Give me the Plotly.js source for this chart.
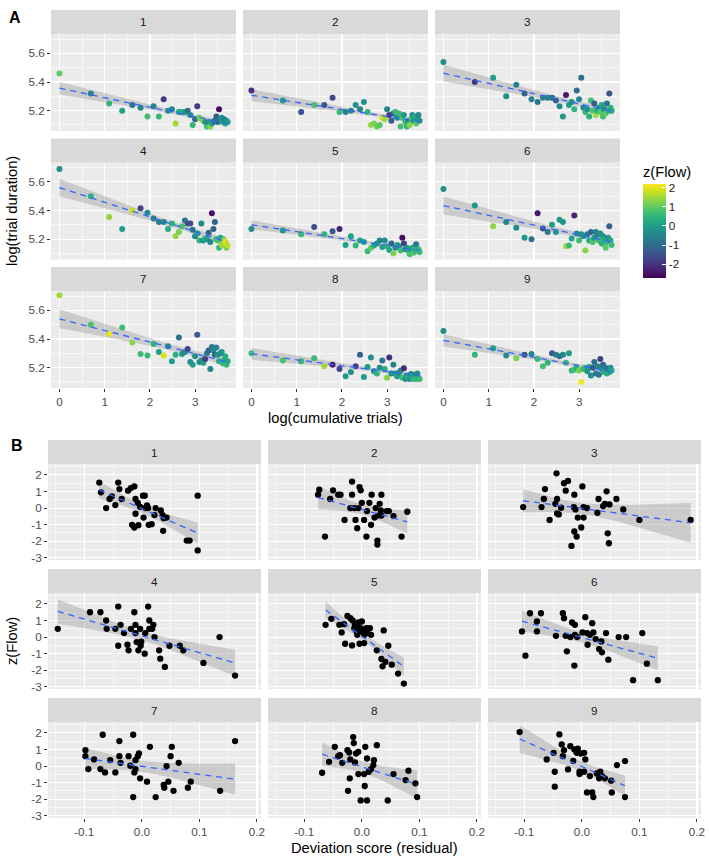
<!DOCTYPE html>
<html>
<head>
<meta charset="utf-8">
<script src="https://cdn.plot.ly/plotly-3.0.1.min.js"></script>
<style>
  html, body { margin: 0; padding: 0; background: #fff; }
</style>
</head>
<body>
<div id="chart" style="width:709px;height:866px"></div>
<script>
// ---- data -------------------------------------------------------------

// Panel A: trial number (x axis is log of it), log(trial duration), z(Flow) colour
const trials = [1, 2, 3, 4, 5, 6, 7, 8, 9, 10, 11, 12, 13, 14, 15, 16, 17, 18, 19, 20,
  21, 22, 23, 24, 25, 26, 27, 28, 29, 30, 31, 32, 33, 34, 35, 36, 37, 38, 39, 40, 41];

const durY = [
  [5.46, 5.32, 5.25, 5.20, 5.24, 5.22, 5.16, 5.23, 5.16, 5.28, 5.20, 5.21, 5.11, 5.19, 5.19, 5.19, 5.20, 5.17, 5.10, 5.14, 5.23, 5.15, 5.14, 5.13, 5.12, 5.09, 5.12, 5.09, 5.11, 5.12, 5.13, 5.16, 5.12, 5.21, 5.14, 5.15, 5.12, 5.14, 5.11, 5.13, 5.12],
  [5.34, 5.27, 5.19, 5.24, 5.24, 5.29, 5.19, 5.19, 5.20, 5.24, 5.21, 5.26, 5.19, 5.10, 5.11, 5.09, 5.10, 5.15, 5.14, 5.21, 5.17, 5.13, 5.18, 5.19, 5.15, 5.18, 5.09, 5.15, 5.17, 5.12, 5.09, 5.13, 5.10, 5.14, 5.17, 5.13, 5.16, 5.11, 5.15, 5.17, 5.13],
  [5.54, 5.40, 5.43, 5.30, 5.38, 5.32, 5.28, 5.26, 5.29, 5.29, 5.29, 5.27, 5.23, 5.16, 5.31, 5.24, 5.26, 5.21, 5.34, 5.28, 5.43, 5.22, 5.19, 5.21, 5.16, 5.27, 5.20, 5.25, 5.17, 5.20, 5.22, 5.19, 5.24, 5.16, 5.21, 5.18, 5.25, 5.20, 5.32, 5.22, 5.20],
  [5.69, 5.50, 5.355, 5.27, 5.40, 5.415, 5.385, 5.345, 5.32, 5.32, 5.27, 5.31, 5.22, 5.25, 5.29, 5.33, 5.31, 5.31, 5.265, 5.22, 5.24, 5.19, 5.31, 5.19, 5.205, 5.20, 5.245, 5.18, 5.38, 5.27, 5.32, 5.20, 5.19, 5.14, 5.21, 5.16, 5.20, 5.19, 5.18, 5.14, 5.155],
  [5.27, 5.26, 5.235, 5.285, 5.235, 5.255, 5.27, 5.16, 5.22, 5.155, 5.19, 5.18, 5.115, 5.14, 5.155, 5.17, 5.19, 5.145, 5.19, 5.15, 5.125, 5.17, 5.10, 5.14, 5.16, 5.15, 5.12, 5.21, 5.17, 5.13, 5.14, 5.12, 5.095, 5.13, 5.14, 5.105, 5.12, 5.165, 5.12, 5.13, 5.11],
  [5.55, 5.435, 5.29, 5.32, 5.28, 5.21, 5.20, 5.38, 5.275, 5.25, 5.30, 5.25, 5.335, 5.32, 5.15, 5.155, 5.205, 5.365, 5.24, 5.19, 5.235, 5.22, 5.12, 5.235, 5.19, 5.25, 5.18, 5.21, 5.25, 5.23, 5.19, 5.24, 5.17, 5.22, 5.20, 5.14, 5.18, 5.21, 5.29, 5.19, 5.16],
  [5.706, 5.50, 5.435, 5.48, 5.375, 5.295, 5.285, 5.365, 5.31, 5.285, 5.35, 5.245, 5.29, 5.41, 5.295, 5.31, 5.33, 5.24, 5.22, 5.28, 5.43, 5.24, 5.25, 5.235, 5.26, 5.30, 5.32, 5.19, 5.345, 5.32, 5.29, 5.34, 5.29, 5.245, 5.30, 5.31, 5.23, 5.25, 5.28, 5.22, 5.245],
  [5.30, 5.25, 5.245, 5.265, 5.21, 5.22, 5.19, 5.14, 5.17, 5.21, 5.29, 5.135, 5.205, 5.27, 5.175, 5.16, 5.20, 5.25, 5.19, 5.13, 5.27, 5.16, 5.22, 5.16, 5.14, 5.165, 5.18, 5.13, 5.195, 5.12, 5.145, 5.13, 5.12, 5.155, 5.14, 5.12, 5.15, 5.12, 5.16, 5.13, 5.12],
  [5.455, 5.29, 5.335, 5.285, 5.265, 5.29, 5.295, 5.26, 5.21, 5.235, 5.30, 5.29, 5.28, 5.29, 5.235, 5.30, 5.18, 5.185, 5.20, 5.18, 5.10, 5.19, 5.20, 5.175, 5.205, 5.145, 5.20, 5.24, 5.16, 5.21, 5.15, 5.26, 5.19, 5.22, 5.17, 5.20, 5.16, 5.19, 5.17, 5.20, 5.18]
];

const flowZ = [
  [1.0, -0.5, 0.5, 0.1, -0.8, -0.6, 0.7, -0.6, 0.6, -1.9, -0.3, -0.5, 1.5, 0.1, 0.3, 0.0, -1.0, -0.4, 0.5, -1.1, -1.9, 1.0, 1.3, 1.4, -0.2, 0.6, -0.3, 1.3, 0.2, -0.4, -0.8, -1.2, -1.0, -2.6, -0.4, -0.2, 0.3, -0.5, 0.1, -0.3, 0.0],
  [-2.0, -0.1, -1.5, 0.8, -1.4, -1.7, 0.6, -0.6, -0.5, -0.2, -0.6, -0.2, 0.5, 1.4, 1.2, 1.1, 0.9, 1.9, 1.5, -0.5, -1.9, -1.3, -1.4, 0.6, -0.3, 0.6, 0.7, 0.8, -0.2, 0.6, 0.5, -0.4, 1.3, 0.7, -0.3, -0.2, 0.3, 0.9, -0.1, -0.4, -0.3],
  [-0.4, -2.0, 0.0, -0.3, -0.5, -1.1, -0.6, -0.8, -0.5, -0.6, -0.9, -1.2, -0.4, -0.1, -2.4, 0.0, -0.3, 0.5, -0.9, -0.5, -0.9, -0.4, 0.6, -0.2, 0.4, 0.7, 0.8, -1.3, 1.5, 0.3, -0.2, 0.9, 0.2, 0.7, -0.4, 1.0, -0.8, 0.5, -1.4, 0.4, 0.2],
  [-0.3, 0.4, 1.4, 0.0, 1.8, -1.8, -0.3, -0.7, -0.6, -0.5, 0.3, 0.4, 1.4, 1.2, 0.8, -0.8, -1.5, -1.6, -0.8, -0.4, 0.0, 0.5, -0.5, -0.2, 0.5, 0.0, -1.1, -0.5, -2.5, -1.3, -1.2, 0.5, 0.8, 0.6, 0.2, 1.5, 0.3, 1.6, 1.9, 1.2, 1.7],
  [-0.4, -0.1, 0.5, -1.5, 0.5, -1.4, -2.3, 0.1, 0.1, 0.5, 0.1, 0.0, 0.6, 1.0, 0.3, -0.2, -0.5, 0.1, -0.4, 0.5, 0.2, -1.2, 1.2, -0.3, 0.2, -0.4, 0.7, -2.6, -1.8, -0.4, 0.1, 0.3, 0.8, -0.3, 0.2, 0.9, 0.4, -0.8, 0.7, 0.5, 0.6],
  [-0.3, -0.2, 1.4, -0.5, -0.4, -0.2, -0.9, -2.4, -1.4, -0.8, 0.0, -0.2, -0.1, -0.2, 1.5, 0.6, 0.1, -2.3, -0.3, 0.7, -0.4, -0.2, 1.3, -0.8, 0.3, -1.1, 0.8, 0.0, -0.5, -0.6, 0.6, -0.3, 0.4, -0.2, 0.2, 0.9, 0.5, -0.1, -1.3, 0.2, 0.7],
  [1.5, 0.8, 2.0, 0.7, 1.3, 0.6, 0.6, 0.5, 0.1, 1.9, -0.5, 0.0, 0.4, -0.9, -0.1, -0.4, -1.7, -0.3, 0.0, -0.3, -1.3, -0.4, -0.2, 0.0, -1.8, -0.6, -1.2, -0.5, -0.8, -0.4, -1.2, -0.5, 0.0, 0.3, -0.6, -0.2, 0.5, 0.2, 0.3, 0.6, 0.2],
  [0.7, 0.8, 0.5, 0.6, 1.5, -2.3, -1.8, 0.0, -0.3, -1.8, -1.3, 0.0, 0.0, -0.3, -0.4, 0.5, -0.4, -0.8, 0.3, 1.3, -2.1, -0.4, -0.6, 0.0, 0.0, -0.3, -0.4, 0.6, -2.2, -0.2, 0.0, 0.4, -0.3, -0.5, 0.2, 0.5, -0.2, 0.6, -0.4, 0.3, 0.6],
  [-0.3, 0.5, 0.0, -0.4, 1.2, -1.4, -0.5, 0.6, 0.7, 0.5, -1.4, -0.6, -0.9, -0.5, 0.6, 0.0, 0.5, 0.7, 0.4, 1.2, 2.1, 0.6, 0.6, -0.2, 0.0, -0.4, -1.3, -1.0, -0.6, -0.5, -0.8, -1.8, -0.2, -1.2, 0.2, -0.5, 0.4, -0.9, 0.1, -0.3, 0.2]
];

// Panel B: deviation score (residual) vs z(Flow)
const devX = [
  [-0.074, -0.071, -0.062, -0.056, -0.052, -0.046, -0.041, -0.039, -0.035, -0.024, -0.019, -0.013, -0.011, -0.007, -0.003, 0.002, 0.005, 0.006, 0.009, 0.011, 0.003, 0.012, -0.017, -0.013, -0.006, 0.017, 0.024, 0.022, 0.033, 0.036, 0.038, 0.043, 0.037, 0.078, 0.083, 0.097, 0.097, -0.011],
  [-0.076, -0.074, -0.064, -0.055, -0.050, -0.041, -0.037, -0.030, -0.020, -0.017, -0.017, -0.013, -0.011, -0.008, -0.006, -0.004, -0.002, 0.000, 0.004, 0.008, 0.009, 0.013, 0.016, 0.017, 0.022, 0.024, 0.027, 0.027, 0.028, 0.031, 0.034, 0.033, 0.034, 0.043, 0.047, 0.055, 0.069, 0.079],
  [-0.102, -0.070, -0.066, -0.064, -0.056, -0.046, -0.044, -0.043, -0.040, -0.043, -0.036, -0.031, -0.028, -0.024, -0.018, -0.014, -0.013, -0.013, -0.009, -0.011, -0.007, 0.001, 0.003, 0.003, -0.001, 0.009, 0.027, 0.029, 0.037, 0.040, 0.043, 0.045, 0.047, 0.048, 0.060, 0.072, 0.100, 0.189],
  [-0.146, -0.090, -0.072, -0.062, -0.061, -0.046, -0.041, -0.041, -0.037, -0.031, -0.023, -0.019, -0.013, -0.011, -0.009, -0.006, -0.003, -0.002, 0.005, 0.006, 0.011, 0.013, 0.013, 0.018, 0.022, 0.030, 0.032, 0.040, 0.048, 0.066, 0.072, 0.107, 0.135, 0.162, -0.025, -0.001, -0.011, 0.020],
  [-0.063, -0.053, -0.039, -0.035, -0.031, -0.029, -0.025, -0.020, -0.017, -0.016, -0.013, -0.012, -0.009, -0.008, -0.006, -0.004, -0.002, 0.000, 0.002, 0.004, 0.008, 0.010, 0.014, -0.004, -0.008, 0.016, 0.026, 0.034, 0.036, 0.038, 0.041, 0.046, 0.052, 0.063, 0.073, 0.004],
  [-0.104, -0.098, -0.090, -0.071, -0.078, -0.078, -0.045, -0.033, -0.031, -0.028, -0.026, -0.020, -0.017, -0.012, -0.012, -0.013, -0.008, 0.001, 0.006, 0.009, 0.010, 0.014, 0.018, 0.020, 0.024, 0.030, 0.034, 0.035, 0.042, 0.046, 0.064, 0.077, 0.089, 0.105, 0.113, 0.132],
  [-0.098, -0.098, -0.093, -0.083, -0.072, -0.068, -0.064, -0.055, -0.046, -0.039, -0.039, -0.037, -0.023, -0.020, -0.015, -0.015, -0.013, -0.011, -0.011, -0.007, -0.005, -0.003, 0.009, 0.014, 0.024, 0.038, 0.039, 0.043, 0.046, 0.050, 0.052, 0.055, 0.064, 0.080, 0.085, 0.136, 0.162],
  [-0.069, -0.057, -0.047, -0.041, -0.038, -0.034, -0.025, -0.022, -0.020, -0.021, -0.024, -0.015, -0.014, -0.012, -0.010, -0.006, -0.006, -0.002, 0.004, 0.005, 0.006, 0.009, 0.009, 0.012, 0.016, 0.020, 0.021, 0.026, 0.045, 0.055, 0.076, 0.081, 0.093, 0.096],
  [-0.108, -0.061, -0.049, -0.047, -0.047, -0.039, -0.035, -0.033, -0.031, -0.024, -0.020, -0.015, -0.013, -0.009, -0.007, -0.004, -0.004, -0.002, 0.004, 0.006, 0.004, 0.009, 0.014, 0.018, 0.020, 0.026, 0.030, 0.032, 0.035, 0.040, 0.051, 0.052, 0.061, 0.075, 0.075]
];

const flowY = [
  [1.54, 0.95, 0.0, 0.55, 0.71, 0.18, 1.54, 1.15, 0.55, 1.05, 1.21, 1.31, 0.55, 0.32, 0.08, 0.75, 0.75, 0.0, 0.16, 0.0, -0.57, -1.01, -1.01, -1.17, -1.03, -0.97, 0.0, -0.42, -0.14, -0.42, -0.61, -0.57, -1.37, -1.96, -1.96, 0.75, -2.55, -0.34],
  [0.81, 1.11, -1.72, 0.55, 1.07, 0.81, 0.81, -0.71, 0.0, 0.81, 1.60, 0.0, -0.71, -1.21, 0.0, 1.27, 1.07, 0.32, -0.71, -1.72, -0.18, 0.32, -1.01, 0.81, -0.57, 0.0, -1.96, -2.2, -0.45, 0.26, 0.81, -0.14, -0.45, -0.18, -0.18, -0.48, -1.72, -0.22],
  [0.06, 0.06, 0.55, 1.15, -0.71, 0.26, 2.1, 0.55, -0.38, -0.32, 0.02, 1.5, 1.05, 1.64, -2.28, 0.06, 0.81, -1.41, -1.72, -0.08, -0.57, 1.31, -0.57, 0.06, -1.17, 0.0, -0.28, 0.55, 0.12, 0.26, 1.01, -1.52, -2.12, 0.22, 0.55, -0.08, -0.71, -0.71],
  [0.5, 1.5, 1.5, 1.0, 0.5, 0.5, 1.84, -0.52, 0.74, 0.24, -0.8, 0.5, 1.5, 0.24, -0.3, -0.8, 0.5, -0.52, -1.0, 0.24, 1.84, 1.0, 0.5, 0.5, 0.0, -0.8, -1.3, -1.8, -0.52, -0.52, -0.8, -1.56, 0.0, -2.32, -0.46, -0.28, 0.74, 0.74],
  [0.74, 1.1, 0.74, 0.28, 0.78, -0.4, 1.28, 1.14, -0.5, 1.0, 0.54, 0.74, 0.34, 0.14, 0.88, -0.4, 0.54, 0.94, 0.34, 0.14, 0.54, 0.24, 0.54, 0.34, 0.64, 0.14, -0.8, -1.32, -1.76, 0.4, -1.5, -0.52, -1.66, -2.2, -2.8, -0.36],
  [0.34, -1.12, 1.44, 1.44, 0.94, 0.34, 0.08, 1.44, 1.14, 0.08, -0.86, 0.0, 0.88, 0.74, 0.14, -1.72, 0.0, 0.28, 1.2, 0.24, -0.46, 0.14, 0.84, 0.28, -0.12, -0.72, -0.26, -0.92, 0.24, -1.36, 0.0, 0.0, -2.6, 0.24, -1.6, -2.6],
  [0.96, 0.6, -0.18, 0.4, -0.18, 1.89, -0.38, 0.36, -0.38, 1.51, 0.6, 0.2, 0.6, 0.02, 1.89, -1.87, -0.38, -0.18, 0.36, 0.6, 0.76, -0.74, -0.94, 1.16, -1.87, -1.14, -1.3, 0.0, -0.94, 0.6, 1.16, -1.49, 0.2, -1.3, -0.94, -1.49, 1.51],
  [-0.4, 0.26, 1.16, 0.6, 0.66, 0.2, 0.96, 0.82, 0.4, -0.74, -1.49, 1.75, 1.39, 0.22, 0.76, -0.48, 0.86, -2.07, -0.48, -1.2, 1.16, 0.46, -2.07, -0.34, -0.18, 0.06, 0.36, 1.26, -2.07, -0.48, -0.84, -0.28, -1.04, -1.87],
  [2.05, 0.4, 0.8, -0.34, -1.24, 1.91, 1.31, 0.6, 0.96, -0.2, 1.2, 0.32, 1.0, 0.8, 1.06, -0.48, -0.34, 0.76, -0.34, 0.4, 0.8, -1.59, -0.6, -1.59, -1.87, -0.44, -0.74, -0.34, -0.6, -0.74, -0.88, -1.59, 0.06, 0.3, -1.87]
];

const facetLabels = ['1', '2', '3', '4', '5', '6', '7', '8', '9'];

const tickA_x = [0, 1, 2, 3];
const tickA_y = [5.2, 5.4, 5.6];
const tickB_x = [-0.1, 0, 0.1, 0.2];
const tickB_xText = ['-0.1', '0.0', '0.1', '0.2'];
const tickB_y = [-3, -2, -1, 0, 1, 2];
const flowTicks = [-2, -1, 0, 1, 2];

// ---- layout geometry (pixels) ----------------------------------------
const W = 709, H = 866;
const FONT = 'Liberation Sans, Arial, sans-serif';
const TICK_SIZE = 11.7;
const TITLE_SIZE = 14.7;
const colsA = [[51, 236], [243, 428], [435, 620]];
const stripTopA = [10, 138.5, 267];
const colsB = [[48, 261], [268, 481], [488, 701]];
const stripTopB = [440, 569, 698];
const STRIP_H = 24;
const PLOT_H_A = 97;
const PLOT_H_B = 96;

const px = p => p / W;
const py = p => 1 - p / H;

// t quantile (0.975) approximation for the confidence band
function tq975(df) {
    const z = 1.959964;
    return z + (z ** 3 + z) / (4 * df) + (5 * z ** 5 + 16 * z ** 3 + 3 * z) / (96 * df * df);
}

// Linear fit with 95% confidence band, like geom_smooth(method = "lm")
function lmBand(xs, ys, steps) {
    const n = xs.length;
    const mx = xs.reduce((a, b) => a + b, 0) / n;
    const my = ys.reduce((a, b) => a + b, 0) / n;
    let sxx = 0, sxy = 0;
    for (let i = 0; i < n; i++) {
        sxx += (xs[i] - mx) ** 2;
        sxy += (xs[i] - mx) * (ys[i] - my);
    }
    const b = sxy / sxx;
    const a = my - b * mx;
    let sse = 0;
    for (let i = 0; i < n; i++) sse += (ys[i] - a - b * xs[i]) ** 2;
    const s = Math.sqrt(sse / (n - 2));
    const t = tq975(n - 2);
    const x0 = Math.min(...xs), x1 = Math.max(...xs);
    const gx = [], gy = [], lo = [], hi = [];
    for (let i = 0; i <= steps; i++) {
        const x = x0 + (x1 - x0) * i / steps;
        const yh = a + b * x;
        const se = s * Math.sqrt(1 / n + (x - mx) ** 2 / sxx);
        gx.push(x); gy.push(yh); lo.push(yh - t * se); hi.push(yh + t * se);
    }
    return { gx, gy, lo, hi };
}

const traces = [];
const layout = {
    width: W,
    height: H,
    autosize: false,
    margin: { l: 0, r: 0, t: 0, b: 0 },
    paper_bgcolor: '#ffffff',
    plot_bgcolor: '#EBEBEB',
    showlegend: false,
    font: { family: FONT, color: '#1A1A1A' },
    shapes: [],
    annotations: [],
    coloraxis: {
        colorscale: 'Viridis',
        cmin: -2.73,
        cmax: 2.2,
        colorbar: {
            x: px(643), xanchor: 'left', xref: 'paper',
            y: py(220.5), yanchor: 'middle', yref: 'paper',
            len: 115, lenmode: 'pixels',
            thickness: 23, thicknessmode: 'pixels',
            outlinewidth: 0, xpad: 0, ypad: 0,
            tickmode: 'array',
            tickvals: flowTicks,
            ticktext: flowTicks.map(String),
            ticks: 'inside', ticklen: 4, tickcolor: '#ffffff', tickwidth: 1,
            tickfont: { family: FONT, size: TICK_SIZE, color: '#1A1A1A' },
            title: { text: 'z(Flow)', side: 'top', font: { family: FONT, size: TITLE_SIZE, color: '#000' } }
        }
    }
};

function gridAxis(opts) {
    return Object.assign({
        showgrid: true,
        gridcolor: '#ffffff',
        gridwidth: 1.1,
        zeroline: false,
        showline: false,
        tickmode: 'array',
        tickfont: { family: FONT, size: TICK_SIZE, color: '#4D4D4D' },
        ticklen: 3,
        tickwidth: 1,
        tickcolor: '#333333',
        fixedrange: true
    }, opts);
}

function addFacet(idx, col, stripTop, plotH, label) {
    const n = idx + 1;
    const xa = 'x' + (n === 1 ? '' : n);
    const ya = 'y' + (n === 1 ? '' : n);
    const top = stripTop + STRIP_H;
    layout.shapes.push({
        type: 'rect', xref: 'paper', yref: 'paper', layer: 'below',
        x0: px(col[0]), x1: px(col[1]), y0: py(top), y1: py(stripTop),
        fillcolor: '#D9D9D9', line: { width: 0 }
    });
    layout.annotations.push({
        xref: 'paper', yref: 'paper', showarrow: false,
        x: px((col[0] + col[1]) / 2), y: py(stripTop + STRIP_H / 2),
        xanchor: 'center', yanchor: 'middle',
        text: label, font: { family: FONT, size: TICK_SIZE, color: '#1A1A1A' }
    });
    return { xa, ya, xdom: [px(col[0]), px(col[1])], ydom: [py(top + plotH), py(top)] };
}

function smoothTraces(band, fc) {
    traces.push({
        x: band.gx.concat(band.gx.slice().reverse()),
        y: band.hi.concat(band.lo.slice().reverse()),
        xaxis: fc.xa, yaxis: fc.ya, type: 'scatter', mode: 'lines',
        fill: 'toself', fillcolor: 'rgba(153,153,153,0.4)', line: { width: 0 }, hoverinfo: 'skip'
    });
}

function fitLine(band, fc) {
    traces.push({
        x: band.gx, y: band.gy, xaxis: fc.xa, yaxis: fc.ya, type: 'scatter', mode: 'lines',
        line: { color: '#3366FF', width: 1.3, dash: '6px,5px' }, hoverinfo: 'skip'
    });
}

// ---- panel A -----------------------------------------------------------
const logTrials = trials.map(k => Math.log(k));
for (let f = 0; f < 9; f++) {
    const r = Math.floor(f / 3), c = f % 3;
    const fc = addFacet(f, colsA[c], stripTopA[r], PLOT_H_A, facetLabels[f]);
    const n = f + 1;
    layout['xaxis' + (n === 1 ? '' : n)] = gridAxis({
        domain: fc.xdom, anchor: fc.ya, range: [-0.186, 3.9],
        tickvals: tickA_x, ticktext: tickA_x.map(String),
        showticklabels: r === 2, ticks: r === 2 ? 'outside' : '',
        minor: { tickmode: 'array', tickvals: [-0.5, 0.5, 1.5, 2.5, 3.5], showgrid: true, gridcolor: '#ffffff', gridwidth: 0.55, ticks: '' }
    });
    layout['yaxis' + (n === 1 ? '' : n)] = gridAxis({
        domain: fc.ydom, anchor: fc.xa, range: [5.058, 5.735],
        tickvals: tickA_y, ticktext: tickA_y.map(v => v.toFixed(1)),
        showticklabels: c === 0, ticks: c === 0 ? 'outside' : '',
        minor: { tickmode: 'array', tickvals: [5.1, 5.3, 5.5, 5.7], showgrid: true, gridcolor: '#ffffff', gridwidth: 0.55, ticks: '' }
    });

    const band = lmBand(logTrials, durY[f], 60);
    smoothTraces(band, fc);
    traces.push({
        x: logTrials, y: durY[f], xaxis: fc.xa, yaxis: fc.ya,
        type: 'scatter', mode: 'markers',
        marker: { size: 6, color: flowZ[f], coloraxis: 'coloraxis' }
    });
    fitLine(band, fc);
}

// ---- panel B -----------------------------------------------------------
for (let f = 0; f < 9; f++) {
    const r = Math.floor(f / 3), c = f % 3;
    const idx = f + 9;
    const fc = addFacet(idx, colsB[c], stripTopB[r], PLOT_H_B, facetLabels[f]);
    const n = idx + 1;
    layout['xaxis' + n] = gridAxis({
        domain: fc.xdom, anchor: fc.ya, range: [-0.163, 0.207],
        tickvals: tickB_x, ticktext: tickB_xText,
        showticklabels: r === 2, ticks: r === 2 ? 'outside' : '',
        minor: { tickmode: 'array', tickvals: [-0.15, -0.05, 0.05, 0.15], showgrid: true, gridcolor: '#ffffff', gridwidth: 0.55, ticks: '' }
    });
    layout['yaxis' + n] = gridAxis({
        domain: fc.ydom, anchor: fc.xa, range: [-3.13, 2.66],
        tickvals: tickB_y, ticktext: tickB_y.map(String),
        showticklabels: c === 0, ticks: c === 0 ? 'outside' : '',
        minor: { tickmode: 'array', tickvals: [-2.5, -1.5, -0.5, 0.5, 1.5, 2.5], showgrid: true, gridcolor: '#ffffff', gridwidth: 0.55, ticks: '' }
    });

    const band = lmBand(devX[f], flowY[f], 60);
    smoothTraces(band, fc);
    traces.push({
        x: devX[f], y: flowY[f], xaxis: fc.xa, yaxis: fc.ya,
        type: 'scatter', mode: 'markers',
        marker: { size: 6.3, color: '#000000' }
    });
    fitLine(band, fc);
}

// ---- titles and panel letters ----------------------------------------
const textNotes = [
    { text: '<b>A</b>', x: 15, y: 17, size: 16 },
    { text: '<b>B</b>', x: 17, y: 446, size: 16 },
    { text: 'log(cumulative trials)', x: (51 + 620) / 2, y: 418, size: TITLE_SIZE },
    { text: 'Deviation score (residual)', x: (48 + 701) / 2, y: 848, size: TITLE_SIZE },
    { text: 'log(trial duration)', x: 12, y: (34 + 388) / 2, size: TITLE_SIZE, angle: -90 },
    { text: 'z(Flow)', x: 12, y: (464 + 818) / 2, size: TITLE_SIZE, angle: -90 }
];
textNotes.forEach(t => {
    layout.annotations.push({
        xref: 'paper', yref: 'paper', showarrow: false,
        x: px(t.x), y: py(t.y), xanchor: 'center', yanchor: 'middle',
        text: t.text, textangle: t.angle || 0,
        font: { family: FONT, size: t.size, color: '#000000' }
    });
});

try {
    Plotly.newPlot('chart', traces, layout, { staticPlot: true, displayModeBar: false });
} catch (error) {
    console.error('Error drawing chart:', error);
}
</script>
</body>
</html>
